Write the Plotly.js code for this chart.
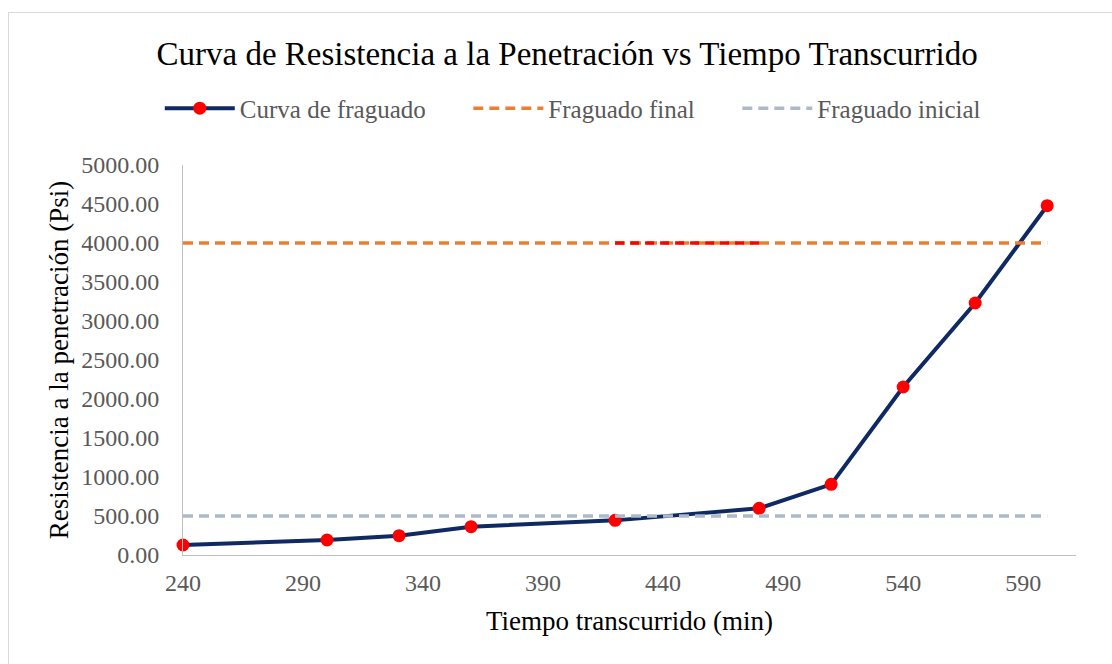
<!DOCTYPE html>
<html>
<head>
<meta charset="utf-8">
<script src="https://cdn.plot.ly/plotly-3.0.1.min.js"></script>
<style>
html,body{margin:0;padding:0;background:#fff;overflow:hidden;width:1112px;height:664px;}
#frame{position:absolute;left:8px;top:12px;width:1300px;height:800px;border:1px solid #d9d9d9;box-sizing:border-box;}
#chart{position:absolute;left:0;top:0;width:1112px;height:664px;}
</style>
</head>
<body>
<div id="frame"></div>
<div id="chart"></div>
<script>
// Data
const tiempo = [240, 300, 330, 360, 420, 480, 510, 540, 570, 600];
const resistencia = [128, 192, 248, 363, 444, 598, 906, 2154, 3231, 4478];
const finalX = [240, 600];
const finalY = [4000, 4000];
const inicialX = [240, 600];
const inicialY = [500, 500];
const tramoX = [420, 480];
const tramoY = [4000, 4000];
const yTicks = [0, 500, 1000, 1500, 2000, 2500, 3000, 3500, 4000, 4500, 5000];
const xTicks = [240, 290, 340, 390, 440, 490, 540, 590];
const seriesNames = ['Curva de fraguado', 'Fraguado final', 'Fraguado inicial'];

const serif = "'Liberation Serif', 'Times New Roman', serif";
const pad = '\u00a0'.repeat(6);

const traces = [
  {
    x: tiempo, y: resistencia, mode: 'lines+markers', name: seriesNames[0] + pad,
    line: {color: '#0F2A63', width: 4},
    marker: {color: '#FF0000', size: 13},
    cliponaxis: false
  },
  {
    x: finalX, y: finalY, mode: 'lines', name: seriesNames[1] + pad,
    line: {color: '#ED7D31', width: 3.5, dash: '10px,6px'}, hoverinfo: 'skip'
  },
  {
    x: inicialX, y: inicialY, mode: 'lines', name: seriesNames[2],
    line: {color: '#ADB9CA', width: 3.5, dash: '10px,6px'}, hoverinfo: 'skip'
  },
  {
    x: tramoX, y: tramoY, mode: 'lines', name: 'tramo', showlegend: false,
    line: {color: '#FF0000', width: 3.5, dash: '9px,6px'}, hoverinfo: 'skip'
  }
];

const layout = {
  width: 1112, height: 664,
  paper_bgcolor: 'rgba(0,0,0,0)', plot_bgcolor: 'rgba(0,0,0,0)',
  margin: {l: 183, r: 36, t: 165, b: 109},
  showlegend: true,
  title: {
    text: 'Curva de Resistencia a la Penetración vs Tiempo Transcurrido',
    font: {family: serif, size: 33, color: '#000000'},
    x: 0.51, xanchor: 'center', y: 0.92, yanchor: 'middle', xref: 'container'
  },
  legend: {
    orientation: 'h', xref: 'paper', x: -0.026, xanchor: 'left', y: 1.145, yanchor: 'middle',
    font: {family: serif, size: 25, color: '#595959'},
    traceorder: 'normal', itemwidth: 70
  },
  xaxis: {
    range: [240, 612], tickvals: xTicks, ticktext: xTicks.map(String),
    showgrid: false, zeroline: false, showline: true, linecolor: '#BFBFBF', linewidth: 1,
    ticks: '', tickfont: {family: serif, size: 24, color: '#595959'},
    ticklabelstandoff: 6, tickangle: 0,
    title: {text: 'Tiempo transcurrido (min)', font: {family: serif, size: 27, color: '#000000'}, standoff: 16}
  },
  yaxis: {
    range: [0, 5000], tickvals: yTicks, ticktext: yTicks.map(v => v.toFixed(2)),
    showgrid: false, zeroline: false, showline: true, linecolor: '#BFBFBF', linewidth: 1,
    ticks: '', tickfont: {family: serif, size: 24, color: '#595959'},
    ticklabelstandoff: 18,
    title: {text: 'Resistencia a la penetración (Psi)', font: {family: serif, size: 27, color: '#000000'}, standoff: 4}
  }
};

Plotly.newPlot('chart', traces, layout, {displayModeBar: false, staticPlot: true});
</script>
</body>
</html>
